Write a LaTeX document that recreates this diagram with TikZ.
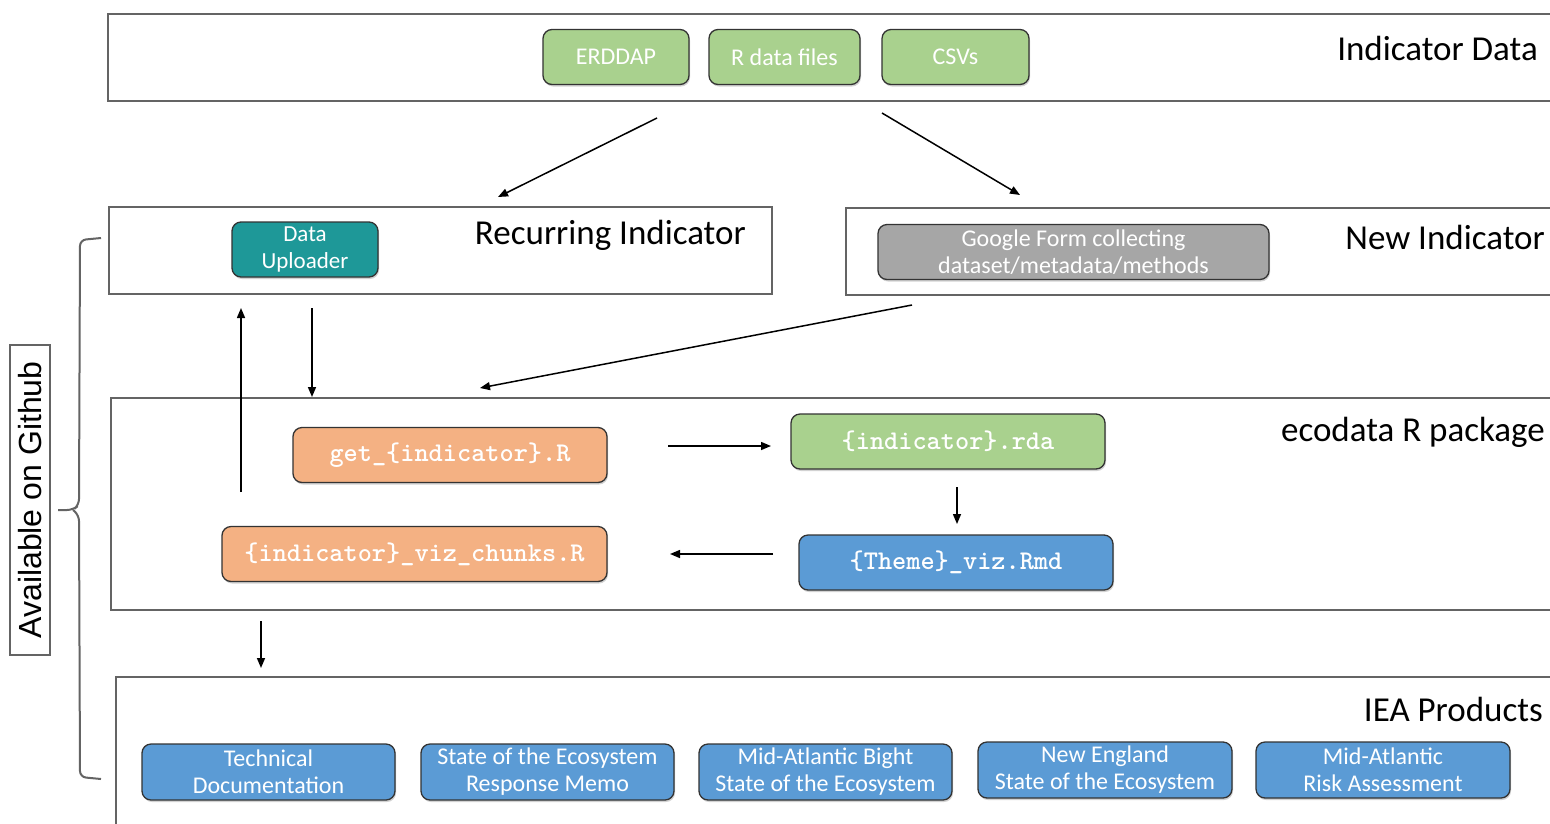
\documentclass[tikz,border=0pt]{standalone}
\usepackage{fontspec}
\setmainfont{Carlito}
\newfontfamily\codefont{lmmonolt10-bold}[Extension=.otf]
\newfontfamily\ghfont{Liberation Sans}
\usetikzlibrary{arrows.meta,shadows}
\definecolor{grn}{RGB}{169,209,142}
\definecolor{org}{RGB}{244,177,131}
\definecolor{blu}{RGB}{91,155,213}
\definecolor{tea}{RGB}{30,152,152}
\definecolor{gry}{RGB}{166,166,166}
\definecolor{frm}{RGB}{100,100,100}
\begin{document}
\begin{tikzpicture}[x=1pt,y=-1pt,
  frame/.style={draw=frm,line width=2pt,anchor=north west,inner sep=0pt,outer sep=0pt},
  rbox/.style={draw=black!80,line width=1.3pt,rounded corners=9pt,text=white,align=center,
    inner sep=0pt,minimum height=55pt,
    drop shadow={shadow xshift=1pt,shadow yshift=-2pt,opacity=0.35}},
  lbl/.style={font=\fontsize{24}{26}\selectfont},
  code/.style={font=\codefont\fontsize{27}{29}\selectfont},
  title/.style={font=\fontsize{35}{38}\selectfont,anchor=east,inner sep=0pt},
  arr/.style={-{Triangle[length=10pt,width=8pt]},line width=1.5pt,black}
]
\useasboundingbox (0,0) rectangle (1550,823);
\clip (0,0) rectangle (1550,823);
\fill[white] (0,0) rectangle (1550,823);

% frames
\node[frame,minimum width=1450pt,minimum height=87pt] (fdata) at (108,14) {};
\node[frame,minimum width=663pt,minimum height=87pt] (frec) at (109,207) {};
\node[frame,minimum width=710pt,minimum height=87pt] (fnew) at (846,208) {};
\node[frame,minimum width=1450pt,minimum height=212pt] (feco) at (111,398) {};
\node[frame,minimum width=1450pt,minimum height=160pt] (fiea) at (116,677) {};

% titles
\node[title] (tdata) at (1538,48) {Indicator Data};
\node[title] (trec) at (746,235) {Recurring Indicator};
\node[title] (tnew) at (1545,237) {New Indicator};
\node[title] (teco) at (1545,432) {ecodata R package};
\node[title] (tiea) at (1543,709) {IEA Products};

% indicator data
\node[rbox,lbl,fill=grn,minimum width=146pt] (erddap) at (616,57) {ERDDAP};
\node[rbox,lbl,fill=grn,minimum width=151pt] (rdata) at (784.5,57) {R data files};
\node[rbox,lbl,fill=grn,minimum width=147pt] (csv) at (955.5,57) {CSVs};

% recurring / new
\node[rbox,font=\fontsize{23}{27}\selectfont,fill=tea,minimum width=146pt] (upl) at (305,249.5) {Data\\Uploader};
\node[rbox,lbl,fill=gry,minimum width=391pt,font=\fontsize{24}{27}\selectfont] (gform) at (1073.5,252) {Google Form collecting\\dataset/metadata/methods};

% ecodata
\node[rbox,code,fill=org,minimum width=314pt] (get) at (450,455) {get\_\{indicator\}.R};
\node[rbox,code,fill=grn,minimum width=314pt] (rda) at (948,441.5) {\{indicator\}.rda};
\node[rbox,code,fill=blu,minimum width=314pt] (theme) at (956,562.5) {\{Theme\}\_viz.Rmd};
\node[rbox,code,fill=org,minimum width=385pt] (chunks) at (414.5,554) {\{indicator\}\_viz\_chunks.R};

% products
\node[rbox,fill=blu,minimum width=253pt,minimum height=56pt,font=\fontsize{24}{27}\selectfont] (p1) at (268.5,772) {Technical\\Documentation};
\node[rbox,fill=blu,minimum width=253pt,minimum height=56pt,font=\fontsize{24}{27}\selectfont] (p2) at (547.5,772) {State of the Ecosystem\\Response Memo};
\node[rbox,fill=blu,minimum width=253pt,minimum height=56pt,font=\fontsize{24}{27}\selectfont] (p3) at (825.5,772) {Mid-Atlantic Bight\\State of the Ecosystem};
\node[rbox,fill=blu,minimum width=254pt,minimum height=56pt,font=\fontsize{24}{27}\selectfont] (p4) at (1105,770) {New England\\State of the Ecosystem};
\node[rbox,fill=blu,minimum width=254pt,minimum height=56pt,font=\fontsize{24}{27}\selectfont] (p5) at (1383,770) {Mid-Atlantic\\Risk Assessment};

% arrow end points
\coordinate (a1s) at (657,118); \coordinate (a1e) at (498,197);
\coordinate (a2s) at (882,113); \coordinate (a2e) at (1020,195);
\coordinate (a3s) at (912,305); \coordinate (a3e) at (480,388);
\coordinate (a4s) at (241,492); \coordinate (a4e) at (241,308);
\coordinate (a5s) at (312,308); \coordinate (a5e) at (312,397);
\coordinate (a6s) at (668,446); \coordinate (a6e) at (771,446);
\coordinate (a7s) at (957,487); \coordinate (a7e) at (957,524);
\coordinate (a8s) at (773,554); \coordinate (a8e) at (670,554);
\coordinate (a9s) at (261,621); \coordinate (a9e) at (261,668);

\draw[arr] (a1s) -- (a1e);
\draw[arr] (a2s) -- (a2e);
\draw[arr] (a3s) -- (a3e);
\draw[arr] (a4s) -- (a4e);
\draw[arr] (a5s) -- (a5e);
\draw[arr] (a6s) -- (a6e);
\draw[arr] (a7s) -- (a7e);
\draw[arr] (a8s) -- (a8e);
\draw[arr] (a9s) -- (a9e);

% brace
\coordinate (btop) at (101,238);
\coordinate (bbot) at (101,779);
\coordinate (btip) at (58,510);
\draw[frm,line width=2pt,rounded corners=6pt]
  (btop) -- (80,240) -- (79,505) -- (73,510) -- (btip);
\draw[frm,line width=2pt,rounded corners=6pt]
  (73,510) -- (79,515) -- (80,777) -- (bbot);

% github label
\node[draw=frm,line width=1.5pt,rotate=90,minimum width=310pt,minimum height=40pt,inner sep=0pt,
  font=\ghfont\fontsize{32}{34}\selectfont] (gh) at (30,500) {Available on Github};
\end{tikzpicture}
\end{document}
